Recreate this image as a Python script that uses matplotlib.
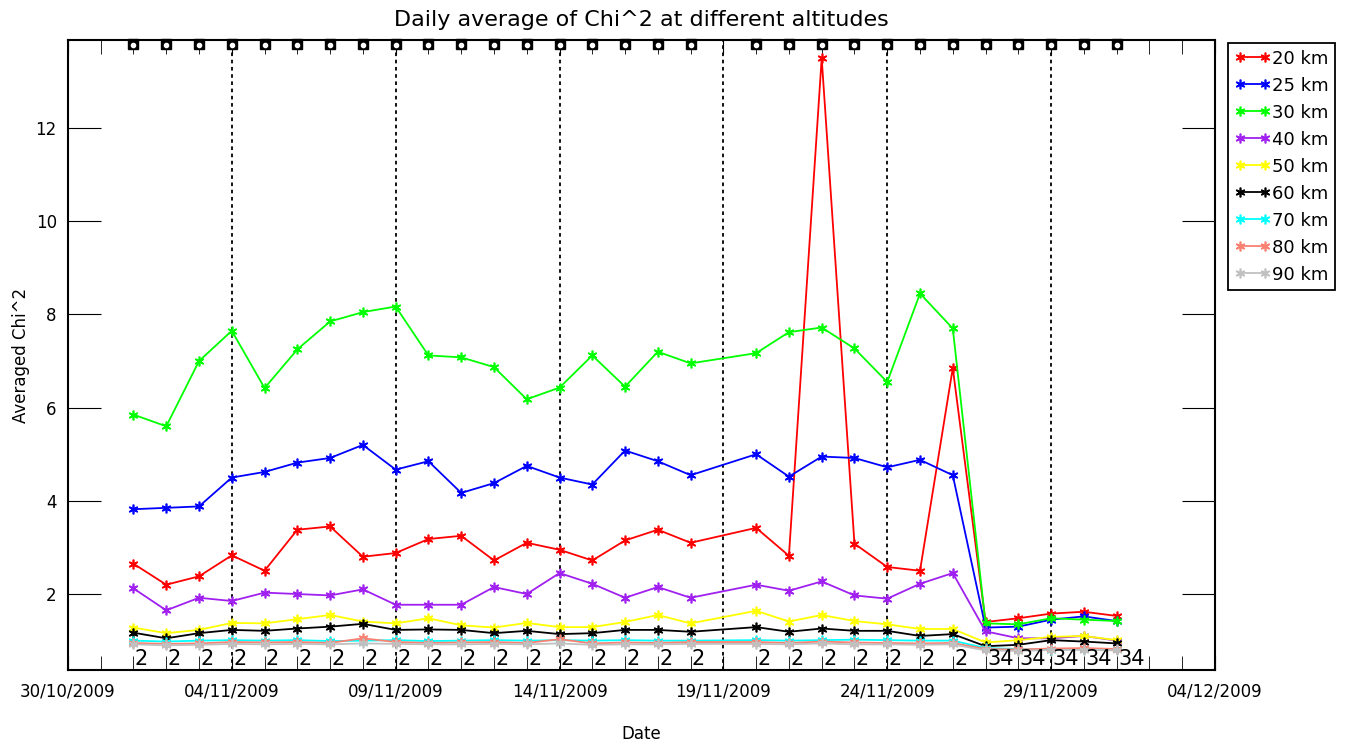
import numpy as np
import pandas as pd
import matplotlib
matplotlib.use("Agg")
import matplotlib.pyplot as plt
import matplotlib.dates as mdates

# Days with data (19/11 is missing)
dates = list(pd.date_range("2009-11-01", "2009-11-18")) + list(pd.date_range("2009-11-20", "2009-12-01"))

# Label written at the bottom of each day (number of something per day)
day_labels = ["2"] * 25 + ["34"] * 5

altitudes = ["20 km", "25 km", "30 km", "40 km", "50 km", "60 km", "70 km", "80 km", "90 km"]
colors = ["#ff0000", "#0000ff", "#00ff00", "#a020f0", "#ffff00", "#000000", "#00ffff", "#fa8072", "#c0c0c0"]

chi2_20 = [2.65, 2.20, 2.38, 2.83, 2.50, 3.38, 3.45, 2.80, 2.88, 3.18, 3.25, 2.72, 3.10, 2.95, 2.72, 3.15, 3.38, 3.10,
           3.42, 2.82, 13.50, 3.08, 2.58, 2.50, 6.85, 1.40, 1.48, 1.58, 1.62, 1.53]
chi2_25 = [3.82, 3.85, 3.88, 4.50, 4.62, 4.82, 4.92, 5.20, 4.67, 4.85, 4.17, 4.38, 4.75, 4.50, 4.35, 5.08, 4.85, 4.55,
           5.00, 4.52, 4.95, 4.92, 4.72, 4.88, 4.55, 1.28, 1.30, 1.45, 1.52, 1.42]
chi2_30 = [5.85, 5.60, 7.00, 7.65, 6.42, 7.25, 7.85, 8.05, 8.17, 7.12, 7.08, 6.87, 6.18, 6.43, 7.12, 6.45, 7.20, 6.95,
           7.17, 7.62, 7.72, 7.27, 6.55, 8.45, 7.70, 1.37, 1.35, 1.48, 1.45, 1.42]
chi2_40 = [2.12, 1.65, 1.92, 1.85, 2.03, 2.00, 1.97, 2.10, 1.77, 1.77, 1.77, 2.15, 2.00, 2.45, 2.22, 1.92, 2.15, 1.92,
           2.20, 2.07, 2.27, 1.97, 1.90, 2.22, 2.45, 1.20, 1.05, 1.05, 1.10, 1.00]
chi2_50 = [1.28, 1.16, 1.23, 1.38, 1.37, 1.46, 1.55, 1.41, 1.37, 1.48, 1.33, 1.28, 1.38, 1.29, 1.29, 1.40, 1.55, 1.37,
           1.64, 1.41, 1.55, 1.42, 1.35, 1.25, 1.25, 0.96, 1.01, 1.08, 1.10, 1.01]
chi2_60 = [1.17, 1.05, 1.16, 1.23, 1.21, 1.26, 1.30, 1.36, 1.23, 1.24, 1.23, 1.16, 1.21, 1.14, 1.16, 1.23, 1.23, 1.19,
           1.29, 1.19, 1.26, 1.21, 1.21, 1.10, 1.14, 0.88, 0.91, 1.01, 0.98, 0.94]
chi2_70 = [1.00, 0.98, 1.00, 1.01, 1.00, 1.01, 0.99, 1.00, 1.01, 0.99, 1.00, 1.01, 1.00, 1.01, 1.00, 1.01, 1.00, 1.00,
           1.01, 1.00, 1.01, 1.02, 1.01, 1.00, 1.00, 0.84, 0.82, 0.80, 0.82, 0.81]
chi2_80 = [0.95, 0.93, 0.94, 0.97, 0.96, 0.97, 0.95, 1.05, 0.97, 0.95, 0.96, 0.97, 0.95, 1.03, 0.94, 0.96, 0.95, 0.97,
           0.97, 0.95, 0.98, 0.96, 0.95, 0.94, 0.95, 0.82, 0.81, 0.83, 0.84, 0.82]
chi2_90 = [0.92, 0.90, 0.91, 0.93, 0.92, 0.93, 0.92, 0.94, 0.93, 0.92, 0.92, 0.93, 0.92, 0.94, 0.91, 0.92, 0.92, 0.93,
           0.93, 0.92, 0.94, 0.92, 0.92, 0.91, 0.92, 0.79, 0.78, 0.80, 0.80, 0.79]

series = [chi2_20, chi2_25, chi2_30, chi2_40, chi2_50, chi2_60, chi2_70, chi2_80, chi2_90]

x_start, x_end = "2009-10-30", "2009-12-04"
y_min, y_max = 0.37, 13.89


def main():
    plt.rcParams["font.family"] = ["DejaVu Sans"]
    fig = plt.figure(figsize=(13.48, 7.45), dpi=100)
    ax = fig.add_axes([0.0504, 0.1007, 0.8509, 0.8456])

    star = (6, 2, 0)  # asterisk like IDL psym=2
    for vals, lab, col in zip(series, altitudes, colors):
        ax.plot(dates, vals, color=col, lw=1.3, marker=star, ms=7, mew=1.2, label=lab)

    # little station icons along the top, one per day with data
    top = ax.get_xaxis_transform()
    ax.plot(dates, [0.993] * len(dates), transform=top, ls="none", marker="s", ms=7,
            color="black", clip_on=False, zorder=5)
    ax.plot(dates, [0.992] * len(dates), transform=top, ls="none", marker="o", ms=3,
            color="white", clip_on=False, zorder=6)

    # per-day count written at the bottom
    for d, lab in zip(mdates.date2num(dates), day_labels):
        ax.annotate(lab, (d, 0.0), xycoords=top, xytext=(1, 1), textcoords="offset points",
                    ha="left", va="bottom", fontsize=15)

    # axes, ticks and dashed lines every 5 days
    major = pd.date_range(x_start, x_end, freq="5D")
    ax.set_xlim(pd.Timestamp(x_start), pd.Timestamp(x_end))
    ax.set_ylim(y_min, y_max)
    ax.xaxis.set_major_locator(matplotlib.ticker.FixedLocator(mdates.date2num(major)))
    ax.xaxis.set_major_formatter(mdates.DateFormatter("%d/%m/%Y"))
    ax.xaxis.set_minor_locator(mdates.DayLocator())
    ax.set_yticks([2, 4, 6, 8, 10, 12])
    ax.tick_params(axis="x", which="both", direction="in", length=10, top=True, pad=9, labelsize=12)
    ax.tick_params(axis="y", direction="in", length=24, right=True, pad=8, labelsize=12)
    ax.xaxis.grid(True, which="major", color="black", linestyle=(0, (2, 2)), linewidth=1.3)
    for sp in ax.spines.values():
        sp.set_linewidth(1.5)

    ax.set_title("Daily average of Chi^2 at different altitudes", fontsize=16, pad=10)
    ax.set_xlabel("Date", fontsize=12, labelpad=18)
    ax.set_ylabel("Averaged Chi^2", fontsize=12, labelpad=4)

    leg = ax.legend(loc="upper left", bbox_to_anchor=(0.911, 0.942), bbox_transform=fig.transFigure,
                    fontsize=13, numpoints=2, handlelength=2.0, handletextpad=0.1, labelspacing=0.5,
                    borderpad=0.35, borderaxespad=0, fancybox=False, framealpha=1)
    leg.get_frame().set_edgecolor("black")
    leg.get_frame().set_linewidth(1.3)

    fig.savefig("out.png", dpi=100)


if __name__ == "__main__":
    main()
